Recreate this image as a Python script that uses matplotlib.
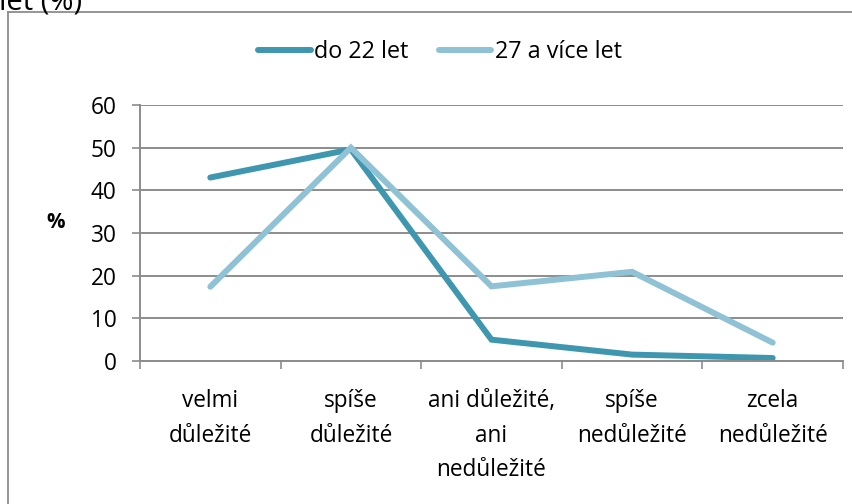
import matplotlib
matplotlib.use("Agg")
import matplotlib.pyplot as plt
from matplotlib.lines import Line2D

plt.rcParams['font.family'] = ['Open Sans', 'DejaVu Sans']

categories = ['velmi\ndůležité', 'spíše\ndůležité', 'ani důležité,\nani\nnedůležité',
              'spíše\nnedůležité', 'zcela\nnedůležité']
young = [43, 49.6, 5, 1.5, 0.7]      # do 22 let
older = [17.4, 50, 17.5, 20.9, 4.3]  # 27 a více let
series_names = ['do 22 let', '27 a více let']
colors = ['#3F97AF', '#8FC2D5']
yticks = [0, 10, 20, 30, 40, 50, 60]

W, H = 853, 504
fs = 16.3
fig = plt.figure(figsize=(W / 100, H / 100), dpi=100)
ax = fig.add_axes([140 / W, 1 - 361 / H, (843 - 140) / W, (361 - 105) / H])

x = list(range(len(categories)))
for vals, c, name in zip([young, older], colors, series_names):
    ax.plot(x, vals, color=c, lw=4.3, solid_capstyle='round', solid_joinstyle='miter', label=name)

ax.set_xlim(-0.5, len(categories) - 0.5)
ax.set_ylim(0, 60)
ax.set_yticks(yticks)
ax.set_yticklabels([str(v) for v in yticks], fontsize=fs)
ax.yaxis.grid(True, color='#8c8c8c', lw=1.4)
ax.set_axisbelow(True)

# category labels sit between the boundary ticks
ax.set_xticks([i - 0.5 for i in range(len(categories) + 1)])
ax.set_xticklabels([])
ax.set_xticks(x, minor=True)
ax.set_xticklabels(categories, minor=True, fontsize=fs, linespacing=1.6, va='top')
ax.tick_params(axis='x', which='minor', length=0, pad=20)
ax.tick_params(axis='x', which='major', length=6, width=1.2, color='#8c8c8c', direction='out')
ax.tick_params(axis='y', length=6, width=1.2, color='#8c8c8c', direction='out', pad=11)

for s in ['top', 'right']:
    ax.spines[s].set_visible(False)
for s in ['left', 'bottom']:
    ax.spines[s].set_color('#8c8c8c')
    ax.spines[s].set_linewidth(1.4)

ax.set_ylabel('%', rotation=0, fontsize=fs - 1.5, fontweight='bold', labelpad=0)
ax.yaxis.set_label_coords(-84 / (843 - 140), 0.5)

handles = [Line2D([0], [0], color=c, lw=4.3, solid_capstyle='round') for c in colors]
fig.legend(handles, series_names, loc='center', bbox_to_anchor=(440 / W, 1 - 52 / H),
           ncol=2, frameon=False, fontsize=fs + 0.5, handlelength=2.25, handletextpad=0.15,
           columnspacing=1.3)

# outer chart border (left and top are visible)
fig.add_artist(Line2D([8 / W, 8 / W], [0, 1 - 12 / H], color='#8c8c8c', lw=1.3))
fig.add_artist(Line2D([8 / W, 1], [1 - 12 / H, 1 - 12 / H], color='#8c8c8c', lw=1.3))

# remainder of the cut-off title
fig.text(-1 / W, 1 - 9 / H, 'let (%)', fontsize=21, va='baseline', ha='left')

fig.savefig('out.png', dpi=100)
